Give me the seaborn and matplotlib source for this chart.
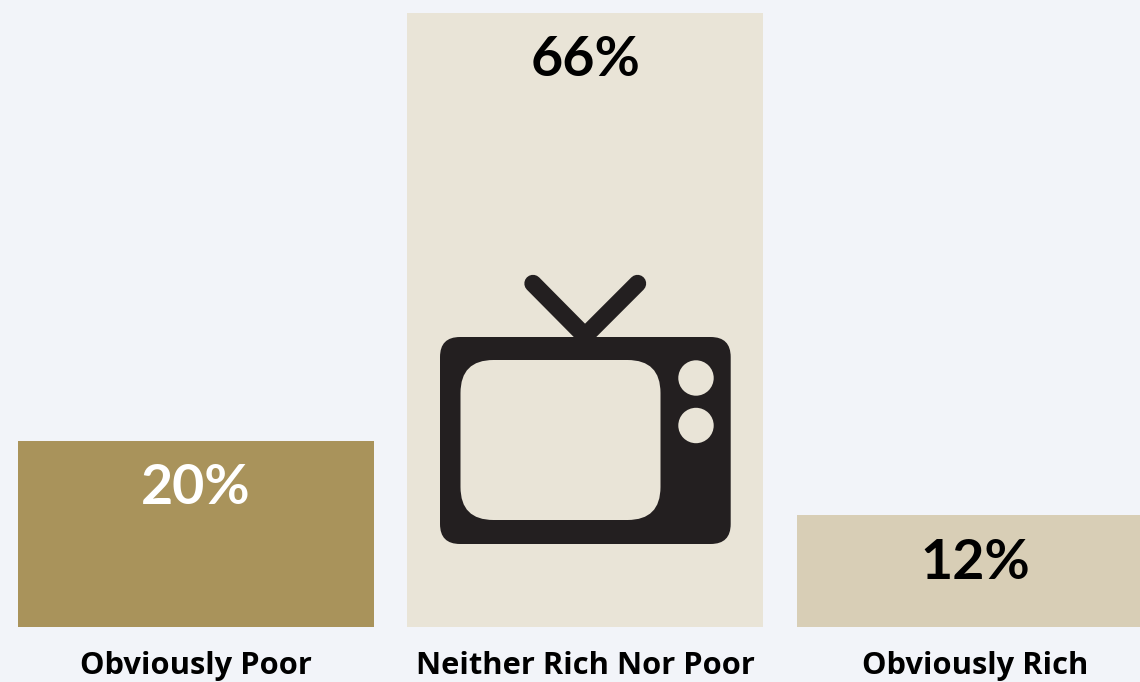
from matplotlib import pyplot as plt
from matplotlib.patches import FancyBboxPatch, Circle
import pandas as pd
import seaborn as sns

# Chart data
categories = ['Obviously Poor', 'Neither Rich Nor Poor', 'Obviously Rich']
shares = [20, 66, 12]
share_labels = ['20%', '66%', '12%']
bar_colors = ['#A9935B', '#E9E4D7', '#D8CEB6']
label_colors = ['white', 'black', 'black']

BG = '#F2F4F9'
INK = '#231F20'

sns.set_theme(style='white')
plt.rcParams['font.family'] = ['Open Sans', 'DejaVu Sans']

W, H = 1140, 682
fig = plt.figure(figsize=(W / 100, H / 100), dpi=100, facecolor=BG)

# axes end at the bar baseline, tick labels sit in the strip below
ax = fig.add_axes([0, (H - 627) / H, 1, 627 / H], facecolor=BG)
df = pd.DataFrame({'category': categories, 'share': shares})
sns.barplot(data=df, x='category', y='share', hue='category', palette=bar_colors,
            width=0.914, legend=False, saturation=1, linewidth=0, ax=ax)
ax.set_xlim(-0.503, 2.424)
ax.set_ylim(0, 67.35)
ax.set_xlabel('')
ax.set_ylabel('')
ax.set_yticks([])
ax.set_xticks(range(len(categories)), categories, fontsize=22.2, fontweight='bold',
              color='black')
ax.tick_params(axis='x', length=0, pad=17.5)
sns.despine(ax=ax, left=True, bottom=True, top=True, right=True)

for cont, lab, col in zip(ax.containers, share_labels, label_colors):
    ax.bar_label(cont, labels=[lab], padding=-52, fontsize=40,
                 fontweight='bold', color=col, family=['Lato', 'DejaVu Sans'])

# TV icon, drawn in pixel coordinates on an overlay
icon = fig.add_axes([0, 0, 1, 1], facecolor='none')
icon.set_xlim(0, W)
icon.set_ylim(H, 0)
icon.axis('off')

for x_end in [533, 637.5]:
    icon.plot([x_end, 585], [283.5, 336], color=INK, lw=12.5, solid_capstyle='round')

icon.add_patch(FancyBboxPatch((460, 357), 250.7, 167, boxstyle='round,pad=20,rounding_size=20',
                              fc=INK, ec='none'))
icon.add_patch(FancyBboxPatch((493.5, 393), 134, 94, boxstyle='round,pad=33,rounding_size=33',
                              fc=bar_colors[1], ec='none'))
for y in [378, 425.5]:
    icon.add_patch(Circle((696, y), 17.7, fc=bar_colors[1], ec='none'))

fig.savefig('out.png', dpi=100, facecolor=BG)
